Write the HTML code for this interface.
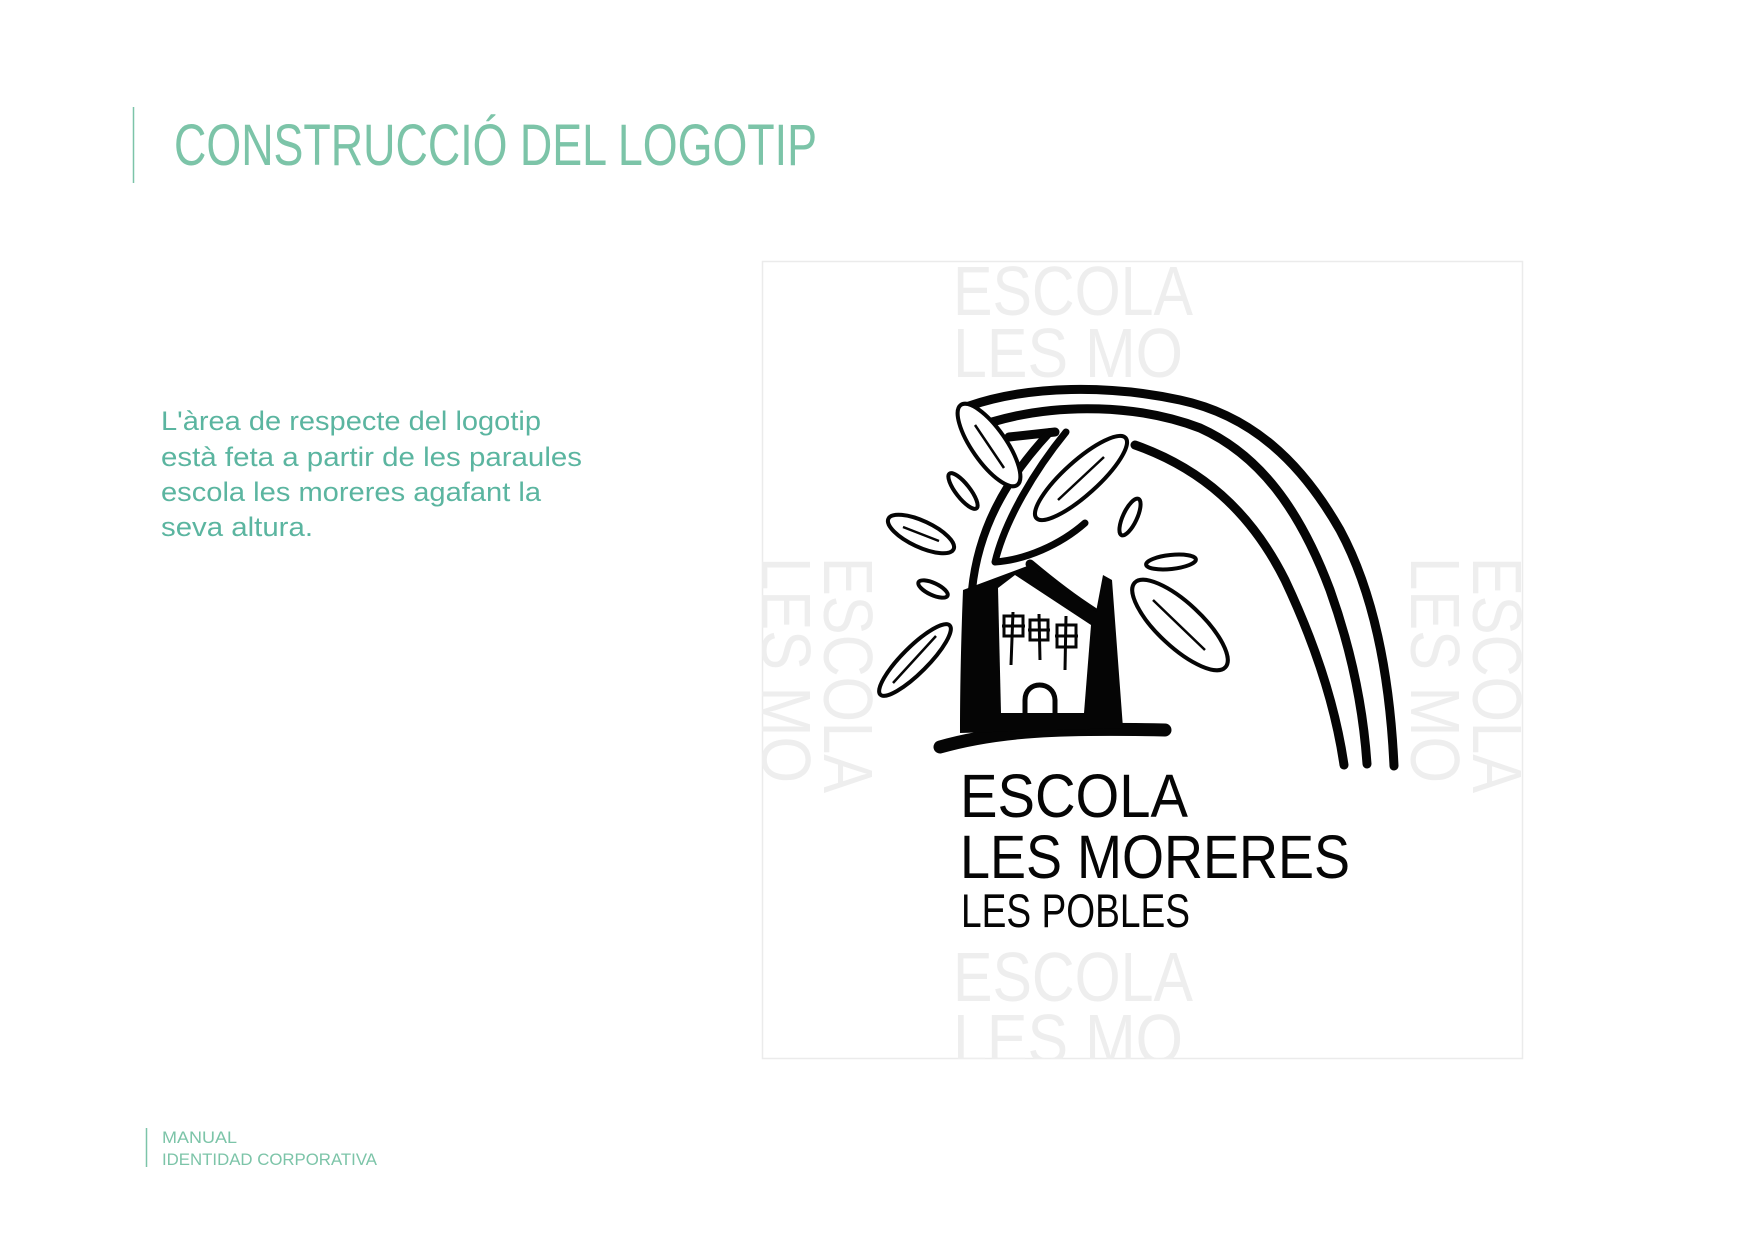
<!DOCTYPE html>
<html><head><meta charset="utf-8"><style>
html,body{margin:0;padding:0;background:#fff;}
body{width:1754px;height:1241px;overflow:hidden;position:relative;}
</style></head><body>
<svg width="1754" height="1241" viewBox="0 0 1754 1241" xmlns="http://www.w3.org/2000/svg" style="position:absolute;left:0;top:0">
<defs><clipPath id="bx"><rect x="762" y="261" width="761" height="798"/></clipPath></defs>
<line x1="133.5" y1="107" x2="133.5" y2="183" stroke="#7cc4a8" stroke-width="1.5"/>
<text x="174" y="165" font-family="Liberation Sans, sans-serif" font-size="58" fill="#7cc4a8" textLength="643" lengthAdjust="spacingAndGlyphs">CONSTRUCCIÓ DEL LOGOTIP</text>
<g font-family="Liberation Sans, sans-serif" font-size="27" fill="#5bb5a0">
<text x="161" y="430" textLength="380" lengthAdjust="spacingAndGlyphs">L'àrea de respecte del logotip</text>
<text x="161" y="466" textLength="421" lengthAdjust="spacingAndGlyphs">està feta a partir de les paraules</text>
<text x="161" y="501" textLength="380" lengthAdjust="spacingAndGlyphs">escola les moreres agafant la</text>
<text x="161" y="536" textLength="152" lengthAdjust="spacingAndGlyphs">seva altura.</text>
</g>
<line x1="146.5" y1="1128" x2="146.5" y2="1167" stroke="#7cc4a8" stroke-width="1.5"/>
<g font-family="Liberation Sans, sans-serif" font-size="17" fill="#7cc4a8">
<text x="162" y="1143" textLength="75" lengthAdjust="spacingAndGlyphs">MANUAL</text>
<text x="162" y="1165" textLength="215" lengthAdjust="spacingAndGlyphs">IDENTIDAD CORPORATIVA</text>
</g>
<rect x="762.5" y="261.5" width="760" height="797" fill="none" stroke="#ebebeb" stroke-width="1.5"/>
<g clip-path="url(#bx)" font-family="Liberation Sans, sans-serif" font-size="70" fill="#eeeeee">
<text x="953" y="315" textLength="240" lengthAdjust="spacingAndGlyphs">ESCOLA</text>
<text x="953" y="377" textLength="230" lengthAdjust="spacingAndGlyphs">LES MO</text>
<text x="953" y="1001" textLength="240" lengthAdjust="spacingAndGlyphs">ESCOLA</text>
<text x="953" y="1063" textLength="230" lengthAdjust="spacingAndGlyphs">LES MO</text>
<g transform="translate(824,557) rotate(90)"><text x="0" y="0" textLength="236" lengthAdjust="spacingAndGlyphs">ESCOLA</text><text x="0" y="62" textLength="226" lengthAdjust="spacingAndGlyphs">LES MO</text></g>
<g transform="translate(1473,557) rotate(90)"><text x="0" y="0" textLength="236" lengthAdjust="spacingAndGlyphs">ESCOLA</text><text x="0" y="62" textLength="226" lengthAdjust="spacingAndGlyphs">LES MO</text></g>
</g>
<g fill="none" stroke="#050505" stroke-linecap="round" stroke-linejoin="round">
<path d="M969 406 C1030 385 1110 385 1180 400 C1250 415 1300 460 1340 530 C1375 595 1390 680 1394 766" stroke-width="9"/>
<path d="M992 422 C1060 402 1140 405 1200 428 C1260 455 1300 510 1330 590 C1355 660 1364 720 1367 764" stroke-width="9"/>
<path d="M1009 437 L1055 432" stroke-width="9"/>
<path d="M1135 445 C1200 468 1250 510 1285 580 C1318 650 1336 710 1344 765" stroke-width="9"/>
<path d="M940 747 C1000 730 1060 728 1165 730" stroke-width="13"/>
<path d="M972 590 C978 530 1005 480 1050 432" stroke-width="8"/>
<path d="M1066 432 C1035 470 1005 520 995 562 C1025 560 1060 545 1085 523" stroke-width="7"/>
<path d="M1030 564 C1055 585 1075 600 1094 612" stroke-width="9"/>
</g>
<path d="M963 590 L1030 565 L1096 612 L1103 575 L1112 580 L1123 728 L960 733 C960 690 961 640 963 590 Z" fill="#050505"/>
<path d="M998 588 L1015 575 L1091 625 L1084 713 L1001 713 Z" fill="#fff"/>
<g stroke="#050505" stroke-width="3" fill="none">
<rect x="1004" y="616" width="19" height="20"/><line x1="1013" y1="612" x2="1011" y2="665"/><line x1="1002" y1="626" x2="1025" y2="626"/>
<rect x="1030" y="620" width="18" height="20"/><line x1="1039" y1="614" x2="1040" y2="660"/><line x1="1028" y1="630" x2="1050" y2="630"/>
<rect x="1057" y="625" width="19" height="22"/><line x1="1066" y1="616" x2="1065" y2="670"/><line x1="1055" y1="636" x2="1078" y2="636"/>
<path d="M1025 713 L1025 700 C1025 680 1054 680 1055 700 L1055 713" stroke-width="5"/>
</g>
<g fill="#fff" stroke="#050505" stroke-width="4">
<ellipse cx="0" cy="0" rx="49" ry="17" transform="translate(989,445) rotate(55)"/>
<ellipse cx="0" cy="0" rx="60" ry="17" transform="translate(1081,478) rotate(-42)"/>
<ellipse cx="0" cy="0" rx="22" ry="7" transform="translate(963,491) rotate(52)"/>
<ellipse cx="0" cy="0" rx="36" ry="13" transform="translate(921,534) rotate(25)"/>
<ellipse cx="0" cy="0" rx="16" ry="6" transform="translate(933,589) rotate(25)"/>
<ellipse cx="0" cy="0" rx="49" ry="13" transform="translate(915,660) rotate(-45)"/>
<ellipse cx="0" cy="0" rx="20" ry="7" transform="translate(1130,517) rotate(-65)"/>
<ellipse cx="0" cy="0" rx="25" ry="7" transform="translate(1171,562) rotate(-6)"/>
<ellipse cx="0" cy="0" rx="62" ry="22" transform="translate(1180,625) rotate(43)"/>
</g>
<g stroke="#050505" stroke-width="2.5" fill="none">
<line x1="975" y1="425" x2="1004" y2="468"/><line x1="1058" y1="500" x2="1104" y2="457"/>
<line x1="903" y1="527" x2="939" y2="541"/><line x1="893" y1="683" x2="936" y2="636"/>
<line x1="1153" y1="600" x2="1205" y2="650"/>
</g>
<g font-family="Liberation Sans, sans-serif" fill="#050505">
<text x="960" y="817" font-size="61" textLength="228" lengthAdjust="spacingAndGlyphs">ESCOLA</text>
<text x="960" y="878" font-size="61" textLength="390" lengthAdjust="spacingAndGlyphs">LES MORERES</text>
<text x="961" y="927" font-size="47" textLength="229" lengthAdjust="spacingAndGlyphs">LES POBLES</text>
</g>
</svg>
</body></html>
